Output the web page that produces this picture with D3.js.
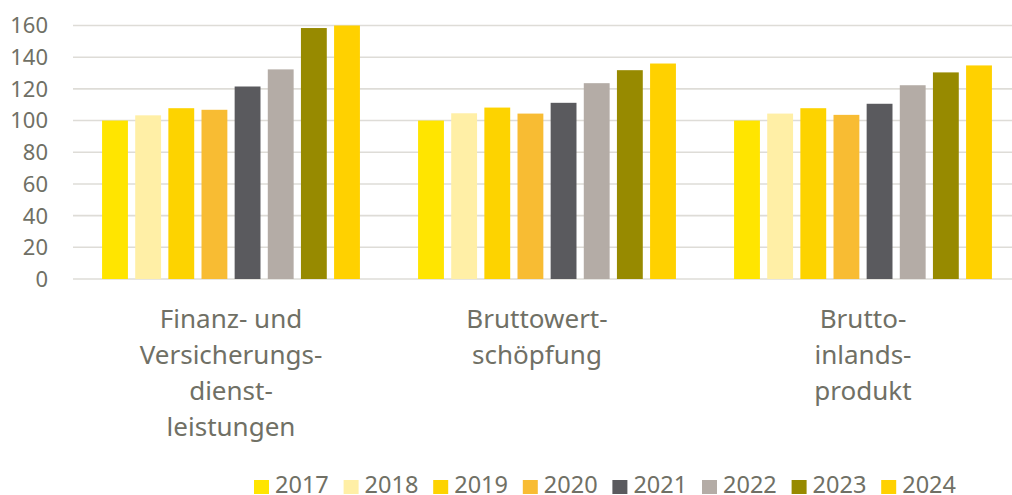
<!DOCTYPE html>
<html>
<head>
<meta charset="utf-8">
<script src="https://cdn.jsdelivr.net/npm/d3@7"></script>
<style>
  body { margin: 0; background: #fff; }
  svg { display: block; font-family: "Noto Sans", "Open Sans", sans-serif; }
</style>
</head>
<body>
<div id="viz"></div>
<script>
var categories = [
  ['Finanz- und', 'Versicherungs-', 'dienst-', 'leistungen'],
  ['Bruttowert-', 'schöpfung'],
  ['Brutto-', 'inlands-', 'produkt']
];
var years = ['2017', '2018', '2019', '2020', '2021', '2022', '2023', '2024'];
var values = [
  [100, 103.3, 107.8, 106.8, 121.5, 132.3, 158.4, 160.5],
  [100, 104.6, 108.2, 104.4, 111.2, 123.6, 131.8, 136],
  [100, 104.4, 107.8, 103.6, 110.6, 122.3, 130.4, 134.8]
];
var yTicks = [0, 20, 40, 60, 80, 100, 120, 140, 160];
var yearColors = ['#FFE500', '#FFEFA6', '#FDD300', '#F8BC33', '#5A5A5E', '#B4ACA6', '#978A00', '#FFD100'];

var width = 1012,
    height = 495,
    plotLeft = 73,
    plotRight = 1021,
    plotTop = 25.5,
    plotBottom = 279,
    textColor = '#707065',
    labelShift = [0, -10, 0];

var svg = d3.select('#viz').append('svg')
  .attr('width', width)
  .attr('height', height);

var yScale = d3.scaleLinear()
  .domain([0, 160])
  .range([plotBottom, plotTop]);

var x0 = d3.scaleBand()
  .domain(d3.range(categories.length))
  .range([plotLeft, plotRight]);

var inset = x0.bandwidth() * 0.092;
var x1 = d3.scaleBand()
  .domain(years)
  .range([inset, x0.bandwidth() - inset])
  .paddingInner(0.22)
  .paddingOuter(0);

var color = d3.scaleOrdinal()
  .domain(years)
  .range(yearColors);

// gridlines
svg.append('g')
  .selectAll('line').data(yTicks)
  .enter().append('line')
    .attr('x1', plotLeft)
    .attr('x2', width)
    .attr('y1', function(d) { return yScale(d); })
    .attr('y2', function(d) { return yScale(d); })
    .attr('stroke', '#dedcd7')
    .attr('stroke-width', 1.6);

// y axis labels
svg.append('g')
  .selectAll('text').data(yTicks)
  .enter().append('text')
    .attr('x', 48)
    .attr('y', function(d) { return yScale(d); })
    .attr('dy', '0.36em')
    .attr('text-anchor', 'end')
    .attr('font-size', 22)
    .attr('fill', textColor)
    .text(function(d) { return d; });

// bars
var groups = svg.append('g')
  .selectAll('g').data(values)
  .enter().append('g')
    .attr('transform', function(d, i) { return 'translate(' + x0(i) + ',0)'; });

groups.selectAll('rect')
  .data(function(d) { return d.map(function(v, j) { return { year: years[j], value: v }; }); })
  .enter().append('rect')
    .attr('x', function(d) { return x1(d.year); })
    .attr('width', x1.bandwidth())
    .attr('y', function(d) { return yScale(Math.min(d.value, 160)); })
    .attr('height', function(d) { return yScale(0) - yScale(Math.min(d.value, 160)); })
    .attr('fill', function(d) { return color(d.year); });

// category labels
svg.append('g')
  .selectAll('text').data(categories)
  .enter().append('text')
    .attr('text-anchor', 'middle')
    .attr('font-size', 26)
    .attr('fill', textColor)
    .each(function(lines, i) {
      d3.select(this).selectAll('tspan').data(lines)
        .enter().append('tspan')
          .attr('x', x0(i) + x0.bandwidth() / 2 + labelShift[i])
          .attr('y', function(d, k) { return 328 + k * 36; })
          .text(function(d) { return d; });
    });

// legend
var legend = svg.append('g')
  .selectAll('g').data(years)
  .enter().append('g')
    .attr('transform', function(d, i) { return 'translate(' + (254 + i * 89.6) + ',0)'; });

legend.append('rect')
  .attr('x', 0)
  .attr('y', 480)
  .attr('width', 15)
  .attr('height', 14)
  .attr('fill', function(d) { return color(d); });

legend.append('text')
  .attr('x', 21)
  .attr('y', 493)
  .attr('font-size', 23.5)
  .attr('fill', textColor)
  .text(function(d) { return d; });
</script>
</body>
</html>
